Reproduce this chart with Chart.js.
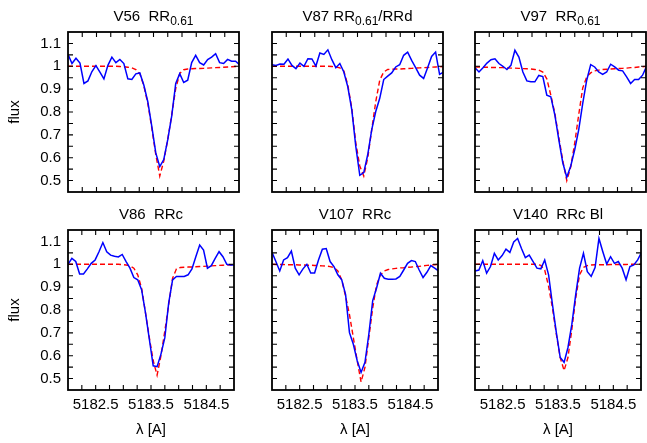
<!DOCTYPE html>
<html>
<head>
<meta charset="utf-8">
<script src="https://cdn.jsdelivr.net/npm/chart.js@4.4.1/dist/chart.umd.min.js"></script>
<style>
  body { margin: 0; background: #fff; width: 647px; height: 443px; overflow: hidden; position: relative; }
  canvas { position: absolute; }
</style>
</head>
<body>
<canvas id="pV56"  width="240" height="245" style="left:0px;top:0px"></canvas>
<canvas id="pV87"  width="240" height="245" style="left:204px;top:0px"></canvas>
<canvas id="pV97"  width="240" height="245" style="left:407px;top:0px"></canvas>
<canvas id="pV86"  width="240" height="245" style="left:0px;top:198px"></canvas>
<canvas id="pV107" width="240" height="245" style="left:204px;top:198px"></canvas>
<canvas id="pV140" width="240" height="245" style="left:407px;top:198px"></canvas>
<script>
// WAVELENGTH GRID [A] (SAME FOR ALL STARS)
const lam = [5182.00, 5182.07, 5182.14, 5182.21, 5182.28, 5182.35, 5182.42, 5182.49, 5182.56, 5182.63,
             5182.70, 5182.77, 5182.84, 5182.91, 5182.98, 5183.05, 5183.12, 5183.19, 5183.26, 5183.33,
             5183.40, 5183.47, 5183.54, 5183.61, 5183.68, 5183.75, 5183.82, 5183.89, 5183.96, 5184.03,
             5184.10, 5184.17, 5184.24, 5184.31, 5184.38, 5184.45, 5184.52, 5184.59, 5184.66, 5184.73,
             5184.80, 5184.87, 5184.94, 5185.01];

// OBSERVED FLUX (blue)
const fluxV56  = [1.052, 1.012, 1.035, 1.014, 0.925, 0.936, 0.977, 1.003, 0.974, 0.945, 1.004, 1.040, 1.016, 1.030, 1.012,
                  0.945, 0.942, 0.967, 0.971, 0.918, 0.845, 0.737, 0.621, 0.561, 0.592, 0.679, 0.783, 0.925, 0.968, 0.929,
                  0.939, 1.016, 1.048, 1.016, 1.006, 1.029, 1.040, 1.055, 1.016, 1.012, 1.030, 1.022, 1.022, 1.007];
const fluxV87  = [1.007, 1.004, 1.010, 1.009, 1.032, 1.004, 0.990, 1.014, 1.000, 1.033, 1.032, 1.001, 1.058, 1.052, 1.072,
                  1.029, 0.994, 1.012, 0.975, 0.910, 0.809, 0.650, 0.523, 0.535, 0.614, 0.723, 0.802, 0.860, 0.942, 0.957,
                  0.971, 0.997, 1.007, 1.048, 1.062, 1.026, 0.994, 0.961, 0.947, 0.994, 1.043, 1.062, 0.965, 0.975];
const fluxV97  = [0.994, 0.975, 0.994, 1.014, 1.029, 1.033, 1.012, 1.000, 0.986, 1.004, 1.070, 1.040, 0.975, 0.936, 0.932,
                  0.932, 0.960, 0.955, 0.874, 0.867, 0.788, 0.679, 0.578, 0.515, 0.564, 0.636, 0.723, 0.838, 0.939, 1.007,
                  0.997, 0.975, 0.965, 0.975, 1.009, 0.997, 0.983, 0.980, 0.954, 0.925, 0.942, 0.942, 0.961, 1.000];
const fluxV86  = [1.000, 1.026, 1.012, 0.958, 0.958, 0.980, 1.004, 1.019, 1.055, 1.095, 1.055, 1.040, 1.035, 1.032, 1.043,
                  1.012, 0.983, 0.942, 0.932, 0.889, 0.788, 0.672, 0.556, 0.552, 0.607, 0.679, 0.831, 0.932, 0.947, 0.947,
                  0.947, 0.954, 0.980, 1.033, 1.084, 1.062, 0.983, 0.994, 1.026, 1.055, 1.033, 1.000, 0.997, 0.997];
const fluxV107 = [1.052, 1.012, 0.971, 1.019, 1.029, 1.058, 0.983, 0.954, 0.980, 1.000, 0.962, 0.962, 1.019, 1.066, 1.069,
                  1.012, 0.990, 0.954, 0.932, 0.867, 0.701, 0.650, 0.578, 0.527, 0.571, 0.694, 0.841, 0.896, 0.961, 0.939,
                  0.935, 0.935, 0.936, 0.947, 0.975, 1.004, 1.016, 1.012, 0.975, 0.942, 0.965, 0.994, 0.983, 0.971];
const fluxV140 = [0.971, 0.975, 1.016, 0.961, 0.990, 1.048, 1.019, 1.038, 1.066, 1.052, 1.098, 1.113, 1.069, 1.029, 1.040,
                  1.012, 0.983, 0.980, 1.019, 0.954, 0.824, 0.701, 0.592, 0.571, 0.636, 0.737, 0.867, 0.983, 1.048, 0.968,
                  0.947, 0.986, 1.113, 1.055, 1.001, 1.033, 1.004, 1.012, 0.983, 0.932, 0.990, 0.997, 1.019, 1.052];

// FITTED LINE PROFILE (red dashed)
const fitV56  = [1.000, 1.000, 1.000, 1.000, 1.000, 1.000, 1.000, 1.000, 1.000, 1.000, 1.000, 1.000, 1.000, 0.999, 0.998,
                 0.996, 0.993, 0.986, 0.968, 0.915, 0.838, 0.730, 0.614, 0.520, 0.585, 0.680, 0.788, 0.903, 0.968, 0.985,
                 0.988, 0.989, 0.990, 0.990, 0.991, 0.992, 0.993, 0.994, 0.995, 0.996, 0.997, 0.998, 0.999, 1.000];
const fitV87  = [1.000, 1.000, 1.000, 1.000, 1.000, 1.000, 1.000, 1.000, 1.000, 1.000, 1.000, 1.000, 1.000, 1.000, 1.000,
                 0.999, 0.997, 0.993, 0.980, 0.918, 0.816, 0.665, 0.564, 0.520, 0.600, 0.723, 0.845, 0.939, 0.975, 0.986,
                 0.987, 0.988, 0.988, 0.989, 0.990, 0.991, 0.992, 0.993, 0.994, 0.995, 0.996, 0.997, 0.998, 0.999];
const fitV97  = [0.997, 0.997, 0.996, 0.996, 0.995, 0.995, 0.994, 0.994, 0.993, 0.992, 0.992, 0.991, 0.990, 0.989, 0.988,
                 0.986, 0.983, 0.975, 0.945, 0.874, 0.795, 0.690, 0.587, 0.500, 0.560, 0.665, 0.789, 0.905, 0.954, 0.971,
                 0.980, 0.983, 0.986, 0.987, 0.988, 0.989, 0.990, 0.991, 0.992, 0.994, 0.995, 0.997, 0.998, 1.000];
const fitV86  = [1.000, 1.000, 1.000, 1.000, 1.000, 1.000, 1.000, 1.000, 1.000, 1.000, 1.000, 1.000, 1.000, 1.000, 0.999,
                 0.997, 0.993, 0.983, 0.954, 0.896, 0.788, 0.679, 0.578, 0.515, 0.600, 0.708, 0.824, 0.939, 0.980, 0.986,
                 0.987, 0.988, 0.988, 0.989, 0.990, 0.991, 0.992, 0.993, 0.994, 0.995, 0.996, 0.997, 0.998, 0.999];
const fitV107 = [1.000, 0.999, 0.999, 0.999, 0.998, 0.998, 0.998, 0.997, 0.997, 0.996, 0.996, 0.995, 0.994, 0.993, 0.992,
                 0.990, 0.986, 0.971, 0.932, 0.860, 0.780, 0.679, 0.578, 0.485, 0.549, 0.679, 0.809, 0.910, 0.954, 0.971,
                 0.977, 0.980, 0.982, 0.984, 0.985, 0.987, 0.988, 0.990, 0.991, 0.993, 0.995, 0.997, 0.998, 1.000];
const fitV140 = [1.000, 1.000, 1.000, 1.000, 1.000, 1.000, 1.000, 1.000, 1.000, 1.000, 1.000, 1.000, 1.000, 1.000, 1.000,
                 1.000, 1.000, 0.995, 0.975, 0.903, 0.809, 0.694, 0.592, 0.535, 0.592, 0.715, 0.852, 0.954, 0.986, 0.994,
                 0.997, 0.998, 0.998, 0.998, 0.998, 0.999, 0.999, 0.999, 0.999, 0.999, 1.000, 1.000, 1.000, 1.000];

// TICK LABELS
const lamLabels  = [5182.5, 5183.5, 5184.5];
const fluxLabels = [0.5, 0.6, 0.7, 0.8, 0.9, 1, 1.1];

const FONT = "'Liberation Sans', Arial, sans-serif";
Chart.defaults.font.family = FONT;
Chart.defaults.font.size = 15;
Chart.defaults.color = '#000';

function toXY(ys) {
  return ys.map((v, i) => ({ x: lam[i], y: v }));
}

function hasLabel(list, v) {
  return list.some(l => Math.abs(l - v) < 1e-6);
}

// frame, inward ticks on every side and the title (with subscript)
function panelDeco(titleParts) {
  return {
    id: 'panelDeco',
    afterDraw(chart) {
      const ctx = chart.ctx, a = chart.chartArea;
      const xs = chart.scales.x, ys = chart.scales.y;
      const TL = 5;
      ctx.save();
      ctx.strokeStyle = '#000';
      ctx.lineWidth = 1.1;
      ctx.beginPath();
      xs.ticks.forEach(t => {
        const px = xs.getPixelForValue(t.value);
        if (px < a.left + 2 || px > a.right - 2) return;
        ctx.moveTo(px, a.bottom); ctx.lineTo(px, a.bottom - TL);
        ctx.moveTo(px, a.top);    ctx.lineTo(px, a.top + TL);
      });
      ys.ticks.forEach(t => {
        const py = ys.getPixelForValue(t.value);
        if (py < a.top + 2 || py > a.bottom - 2) return;
        ctx.moveTo(a.left, py);  ctx.lineTo(a.left + TL, py);
        ctx.moveTo(a.right, py); ctx.lineTo(a.right - TL, py);
      });
      ctx.stroke();
      ctx.lineWidth = 1.8;
      ctx.strokeRect(a.left, a.top, a.right - a.left, a.bottom - a.top);

      // TITLE
      ctx.fillStyle = '#000';
      ctx.textAlign = 'left';
      ctx.textBaseline = 'alphabetic';
      let w = 0;
      titleParts.forEach(p => {
        ctx.font = (p.sub ? '12px ' : '15px ') + FONT;
        w += ctx.measureText(p.text).width;
      });
      let x = (a.left + a.right) / 2 - w / 2;
      const base = a.top - 11.5;
      titleParts.forEach(p => {
        ctx.font = (p.sub ? '12px ' : '15px ') + FONT;
        ctx.fillText(p.text, x, p.sub ? base + 4 : base);
        x += ctx.measureText(p.text).width;
      });
      ctx.restore();
    }
  };
}

function makePanel(id, titleParts, flux, fit, col, row) {
  const ctx = document.getElementById(id).getContext('2d');
  return new Chart(ctx, {
    type: 'line',
    data: {
      datasets: [{
        data: toXY(flux),
        borderColor: '#0000ff',
        borderWidth: 1.5,
        pointRadius: 0,
        tension: 0,
        fill: false
      }, {
        data: toXY(fit),
        borderColor: '#ff0000',
        borderWidth: 1.4,
        borderDash: [5, 3],
        pointRadius: 0,
        tension: 0,
        fill: false
      }]
    },
    options: {
      responsive: false,
      animation: false,
      layout: { padding: { top: 32, right: 1, left: 0, bottom: 0 } },
      plugins: { legend: { display: false }, tooltip: { enabled: false } },
      scales: {
        x: {
          type: 'linear',
          min: 5182, max: 5185,
          grid: { display: false, drawTicks: false, tickLength: 0 },
          border: { display: false },
          ticks: {
            display: row === 1,
            stepSize: 0.25,
            autoSkip: false,
            maxRotation: 0,
            padding: 6,
            callback: v => hasLabel(lamLabels, v) ? v.toFixed(1) : ''
          },
          title: { display: row === 1, text: 'λ [A]', padding: { top: 0, bottom: 4 } },
          afterFit: s => { s.height = 53; }
        },
        y: {
          min: 0.45, max: 1.15,
          grid: { display: false, drawTicks: false, tickLength: 0 },
          border: { display: false },
          ticks: {
            display: col === 0,
            stepSize: 0.05,
            autoSkip: false,
            padding: 7,
            callback: v => hasLabel(fluxLabels, v) ? String(Math.round(v * 10) / 10) : ''
          },
          title: { display: col === 0, text: 'flux', padding: { top: 6, bottom: 0 } },
          afterFit: s => { s.width = 68; }
        }
      }
    },
    plugins: [panelDeco(titleParts)]
  });
}

makePanel('pV56',  [{ text: 'V56  RR' }, { text: '0.61', sub: true }], fluxV56, fitV56, 0, 0);
makePanel('pV87',  [{ text: 'V87 RR' }, { text: '0.61', sub: true }, { text: '/RRd' }], fluxV87, fitV87, 1, 0);
makePanel('pV97',  [{ text: 'V97  RR' }, { text: '0.61', sub: true }], fluxV97, fitV97, 2, 0);
makePanel('pV86',  [{ text: 'V86  RRc' }], fluxV86, fitV86, 0, 1);
makePanel('pV107', [{ text: 'V107  RRc' }], fluxV107, fitV107, 1, 1);
makePanel('pV140', [{ text: 'V140  RRc Bl' }], fluxV140, fitV140, 2, 1);
</script>
</body>
</html>
